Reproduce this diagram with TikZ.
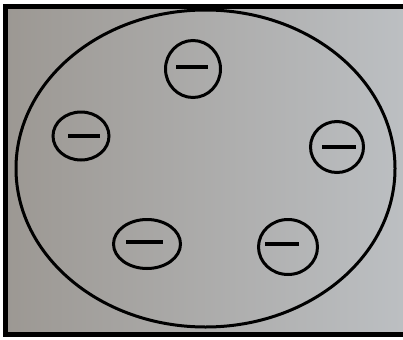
\documentclass[tikz,border=0pt]{standalone}
\usepackage{tikz}
\usetikzlibrary{positioning,shapes,calc}
\definecolor{PlateDark}{HTML}{9C9893}
\definecolor{PlateMid}{HTML}{AEA9A9}
\definecolor{PlateLight}{HTML}{BCBFC2}

\begin{document}
\begin{tikzpicture}[x=0.03cm, y=-0.03cm,
    frame/.style={line width=0.15cm, black},
    atom/.style={line width=0.09cm, black},
    charge/.style={line width=0.09cm, black},
    minusbar/.style={line width=0.12cm, black}
]
\useasboundingbox (0,0) rectangle (403,339);
\shade[left color=PlateDark, middle color=PlateMid, right color=PlateLight] (5,6) rectangle (403,334);
\draw[frame] (403,6.5) -- (5.5,6.5) -- (5.5,334) -- (403,334);

% neutral body
\draw[atom] (205.5,168.5) ellipse (189.5 and 158.5);

% negative charges
\coordinate (top) at (193,69);
\coordinate (left) at (81,136);
\coordinate (right) at (337,147);
\coordinate (lowleft) at (147,244);
\coordinate (lowright) at (288,247);

\draw[charge] (top) ellipse (27.5 and 28.5);
\draw[minusbar] ($(top)+(-17,-2)$) -- ($(top)+(15,-2)$);
\draw[charge] (left) ellipse (28 and 24);
\draw[minusbar] ($(left)+(-13,0)$) -- ($(left)+(19,0)$);
\draw[charge] (right) ellipse (26.5 and 25.5);
\draw[minusbar] ($(right)+(-15,0)$) -- ($(right)+(19,0)$);
\draw[charge] (lowleft) ellipse (33.5 and 24.5);
\draw[minusbar] ($(lowleft)+(-21,-2)$) -- ($(lowleft)+(16,-2)$);
\draw[charge] (lowright) ellipse (29.5 and 27.5);
\draw[minusbar] ($(lowright)+(-23,-3)$) -- ($(lowright)+(11,-3)$);
\end{tikzpicture}
\end{document}
